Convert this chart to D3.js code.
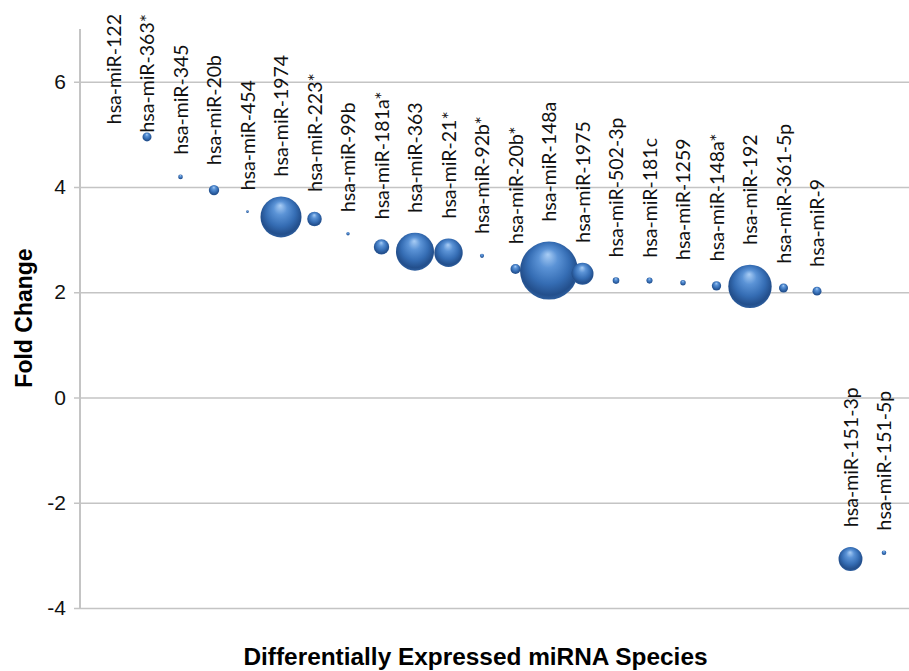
<!DOCTYPE html>
<html>
<head>
<meta charset="utf-8">
<script src="https://cdn.jsdelivr.net/npm/d3@7"></script>
<style>
  body { margin: 0; background: #fff; }
</style>
</head>
<body>
<script>
const mirnas = ['hsa-miR-122', 'hsa-miR-363*', 'hsa-miR-345', 'hsa-miR-20b', 'hsa-miR-454',
    'hsa-miR-1974', 'hsa-miR-223*', 'hsa-miR-99b', 'hsa-miR-181a*', 'hsa-miR-363',
    'hsa-miR-21*', 'hsa-miR-92b*', 'hsa-miR-20b*', 'hsa-miR-148a', 'hsa-miR-1975',
    'hsa-miR-502-3p', 'hsa-miR-181c', 'hsa-miR-1259', 'hsa-miR-148a*', 'hsa-miR-192',
    'hsa-miR-361-5p', 'hsa-miR-9', 'hsa-miR-151-3p', 'hsa-miR-151-5p'];
const foldChange = [8.0, 4.95, 4.19, 3.94, 3.53, 3.43, 3.39, 3.11, 2.86, 2.77,
    2.75, 2.69, 2.44, 2.41, 2.35, 2.22, 2.22, 2.18, 2.12, 2.11,
    2.08, 2.02, -3.07, -2.95];
const bubbleSize = [1.0, 2.4, 0.63, 3.2, 0.2, 50, 6.3, 0.34, 7.0, 43,
    24, 0.5, 3.0, 100, 14.4, 1.3, 1.1, 0.87, 2.6, 56,
    2.4, 2.4, 17, 0.63];
const yTicks = [-4, -2, 0, 2, 4, 6];

let main = () => {
    const width = 909, height = 671;
    const left = 80, right = 917.5, top = 29, bottom = 608;

    let svg = d3.select('body').append('svg')
        .attr('width', width)
        .attr('height', height);

    let data = mirnas.map((name, i) => ({name, x: i + 1, y: foldChange[i], size: bubbleSize[i]}));

    let x = d3.scaleLinear().domain([0, 25]).range([left, right]);
    let y = d3.scaleLinear().domain([-4, 7]).range([bottom, top]);
    let r = d3.scaleSqrt().domain([0, 100]).range([0, 29]);

    // sphere look
    let grad = svg.append('defs').append('radialGradient')
        .attr('id', 'ball')
        .attr('cx', '50%').attr('cy', '45%').attr('r', '55%')
        .attr('fx', '48%').attr('fy', '22%');
    [['0%', '#a9cdf5'], ['30%', '#5b93d6'], ['65%', '#356db4'], ['90%', '#234f8c'], ['100%', '#2d5e9e']]
        .forEach(s => grad.append('stop').attr('offset', s[0]).attr('stop-color', s[1]));

    svg.append('clipPath').attr('id', 'plot')
        .append('rect').attr('x', left).attr('y', top).attr('width', width - left).attr('height', bottom - top);

    // gridlines + ticks
    svg.append('g')
        .attr('transform', `translate(${left},0)`)
        .call(d3.axisLeft(y).tickValues(yTicks).tickSize(-(width - left)).tickPadding(14).tickFormat(d => String(d)))
        .call(g => g.select('.domain').remove())
        .call(g => g.selectAll('.tick line')
            .attr('x1', -6)
            .attr('stroke', '#c4c4c4')
            .attr('stroke-width', 1.5))
        .call(g => g.selectAll('.tick text')
            .attr('fill', '#111')
            .attr('font-family', 'Liberation Sans, Arial, sans-serif')
            .attr('font-size', 21));

    svg.append('line')
        .attr('x1', left).attr('x2', left)
        .attr('y1', top).attr('y2', bottom)
        .attr('stroke', '#c4c4c4')
        .attr('stroke-width', 2);

    // bubbles
    svg.append('g').attr('clip-path', 'url(#plot)')
        .selectAll('circle')
        .data(data)
        .enter()
        .append('circle')
        .attr('cx', d => x(d.x))
        .attr('cy', d => y(d.y))
        .attr('r', d => r(d.size))
        .attr('fill', 'url(#ball)');

    // labels sit above each bubble, pushed down when they would leave the top
    let labels = svg.append('g')
        .selectAll('text')
        .data(data)
        .enter()
        .append('text')
        .attr('text-anchor', 'start')
        .attr('dy', '0.36em')
        .attr('font-family', 'Lato, sans-serif')
        .attr('font-size', 19.5)
        .attr('fill', '#111')
        .text(d => d.name);

    labels.each(function (d) {
        let len = this.getComputedTextLength();
        let end = Math.max(y(d.y) - r(d.size) - 20, 14 + len);
        d3.select(this).attr('transform', `translate(${x(d.x)},${end}) rotate(-90)`);
    });

    svg.append('text')
        .attr('transform', `translate(32,318) rotate(-90)`)
        .attr('text-anchor', 'middle')
        .attr('font-family', 'Liberation Sans, Arial, sans-serif')
        .attr('font-weight', 'bold')
        .attr('font-size', 23)
        .text('Fold Change');

    svg.append('text')
        .attr('x', 475.5)
        .attr('y', 665)
        .attr('text-anchor', 'middle')
        .attr('font-family', 'Liberation Sans, Arial, sans-serif')
        .attr('font-weight', 'bold')
        .attr('font-size', 24.4)
        .text('Differentially Expressed miRNA Species');
}

main()
</script>
</body>
</html>
